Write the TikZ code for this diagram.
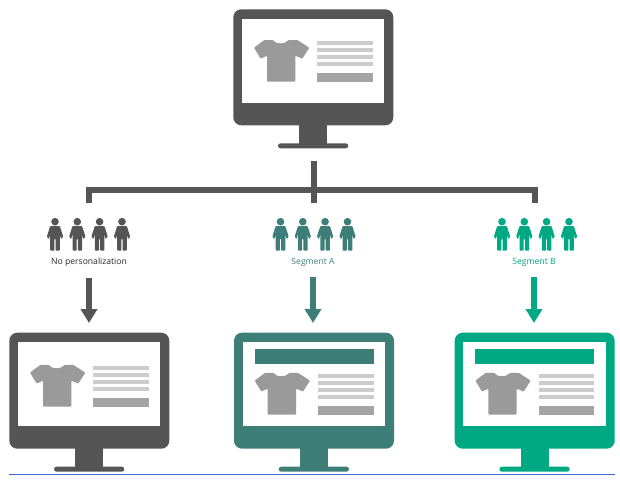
\documentclass[tikz,border=0pt]{standalone}
\usepackage{fontspec}
\setmainfont{Open Sans}
\usepackage{xcolor}
\usetikzlibrary{positioning, arrows.meta, calc}
\definecolor{mon-dark}{HTML}{555555}
\definecolor{mon-teal}{HTML}{3D7F78}
\definecolor{mon-green}{HTML}{00A884}
\definecolor{shirt-gray}{HTML}{9A9A9A}
\definecolor{line-gray}{HTML}{CCCCCC}
\definecolor{rule-blue}{HTML}{3F6FD6}

% one monitor: name, left, top, colour, shift of the page content
\newcommand{\monitor}[5]{
    \node[screenbody, fill=#4] (#1) at (#2+80, #3+58) {};
    \begin{scope}[shift={(#2,#3)}]
        \fill[white] (8.7,9.4) rectangle (151,93.4);
        \fill[#4] (66,114) rectangle (94,136);
        \fill[#4, rounded corners=2.5pt] (44.7,134) rectangle (115,139);
        \begin{scope}[yshift=-#5pt]
            \fill[shirt-gray, rounded corners=0.8pt] (40,30.7) .. controls (42,35) and (52,35) .. (55,30.7)
                -- (64,30.7) -- (76,38.4) -- (69,49.4) -- (62,46.4) -- (62,72.4) -- (33.7,72.4)
                -- (33.7,46.4) -- (27.4,49.4) -- (20.7,38.4) -- (31,30.7) -- cycle;
            \fill[line-gray] (84,31.4) rectangle (139.5,35.9);
            \fill[line-gray] (84,38.4) rectangle (139.5,43);
            \fill[line-gray] (84,45.4) rectangle (139.5,50);
            \fill[line-gray] (84,52.4) rectangle (139.5,57);
            \fill[shirt-gray!90] (84,63.4) rectangle (139.5,72.7);
        \end{scope}
    \end{scope}
}

% one row of four figures: left figure x, colour
\newcommand{\people}[2]{
    \foreach \dx in {0,22.3,44.6,67} {
        \begin{scope}[shift={(#1+\dx,221.7)}]
            \fill[#2] (0,0) circle (3.8);
            \fill[#2, rounded corners=0.8pt] (-4.8,4.3) -- (4.8,4.3) -- (8.2,15) -- (6,17.5) -- (4.8,12)
                -- (4.8,29) -- (0.6,29) -- (0.6,17) -- (-0.6,17) -- (-0.6,29) -- (-4.8,29)
                -- (-4.8,12) -- (-6,17.5) -- (-8.2,15) -- cycle;
        \end{scope}
    }
}

\tikzset{
    screenbody/.style={rounded corners=8pt, minimum width=160pt, minimum height=116pt, inner sep=0pt},
    banner/.style={minimum width=119pt, minimum height=14.7pt, inner sep=0pt},
    bar/.style={line width=6pt, mon-dark},
    arr/.style={-{Triangle[width=16pt,length=14pt]}, line width=6.5pt, shorten <=10pt, shorten >=9.5pt},
    seglabel/.style={font=\fontsize{8.6}{10}\selectfont, inner sep=1pt},
}

\begin{document}
\begin{tikzpicture}[x=1pt, y=-1pt]
    \useasboundingbox (0,0) rectangle (620,479);

    \monitor{topmon}{233.3}{9.3}{mon-dark}{0}
    \monitor{mona}{9.3}{332.7}{mon-dark}{1.5}
    \monitor{monb}{234}{332.7}{mon-teal}{9.5}
    \monitor{monc}{454.7}{332.7}{mon-green}{9.5}
    \node[banner, fill=mon-teal]  (bannerb) at (314, 356.7) {};
    \node[banner, fill=mon-green] (bannerc) at (534.7, 356.7) {};

    % tree under the top monitor
    \coordinate (trunk) at (314, 161);
    \coordinate (busmid) at (314, 190);
    \coordinate (dropa) at (89, 203);
    \coordinate (dropb) at (314, 203);
    \coordinate (dropc) at (535, 203);
    \draw[bar] (dropa) |- (busmid) -| (dropc);
    \draw[bar] (trunk) -- (dropb);

    \people{55}{mon-dark}
    \people{280.5}{mon-teal}
    \people{502}{mon-green}

    \node[seglabel, text=black!85]   (laba) at (89, 262) {No personalization};
    \node[seglabel, text=mon-teal]   (labb) at (313, 262) {Segment A};
    \node[seglabel, text=mon-green]  (labc) at (534, 262) {Segment B};

    \draw[arr, mon-dark]  (laba.south) -- (laba.south |- mona.north);
    \draw[arr, mon-teal]  (labb.south) -- (labb.south |- monb.north);
    \draw[arr, mon-green] (labc.south) -- (labc.south |- monc.north);

    \coordinate (rulea) at (9, 474);
    \coordinate (ruleb) at (615, 474);
    \draw[rule-blue, line width=1pt] (rulea) -- (ruleb);
\end{tikzpicture}
\end{document}
